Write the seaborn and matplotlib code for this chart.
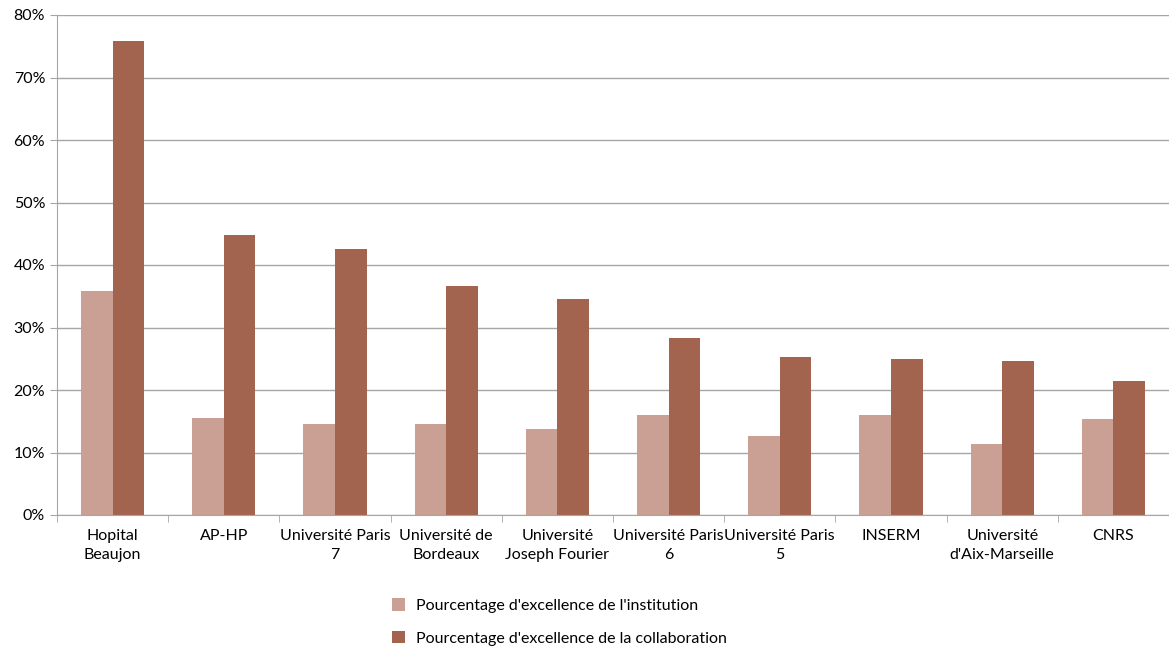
import matplotlib
matplotlib.use("Agg")
import matplotlib.pyplot as plt
from matplotlib.ticker import PercentFormatter, FixedLocator, NullFormatter
import pandas as pd
import seaborn as sns

institutions = ["Hopital\nBeaujon", "AP-HP", "Université Paris\n7", "Université de\nBordeaux",
                "Université\nJoseph Fourier", "Université Paris\n6", "Université Paris\n5", "INSERM",
                "Université\nd'Aix-Marseille", "CNRS"]
pct_institution = [35.8, 15.5, 14.6, 14.6, 13.8, 16.0, 12.6, 16.0, 11.4, 15.3]
pct_collaboration = [75.9, 44.8, 42.6, 36.7, 34.5, 28.3, 25.3, 24.9, 24.7, 21.4]
series_names = ["Pourcentage d'excellence de l'institution",
                "Pourcentage d'excellence de la collaboration"]
colors = ["#C9A093", "#A3644F"]

df = pd.DataFrame({
    "institution": institutions * 2,
    "value": pct_institution + pct_collaboration,
    "serie": [series_names[0]] * len(institutions) + [series_names[1]] * len(institutions),
})

sns.set_style("white")
plt.rcParams["font.family"] = ["Lato", "DejaVu Sans"]
plt.rcParams["text.color"] = "#000000"

fig = plt.figure(figsize=(11.69, 6.47), dpi=100)
ax = fig.add_axes([57 / 1169, 1 - 515 / 647, 1112 / 1169, 500 / 647])

sns.barplot(data=df, x="institution", y="value", hue="serie", palette=colors,
            width=0.57, ax=ax, saturation=1, edgecolor="none")

ax.set_xlim(-0.5, len(institutions) - 0.5)
ax.set_ylim(0, 80)
ax.set_yticks(range(0, 81, 10))
ax.yaxis.set_major_formatter(PercentFormatter(decimals=0))
ax.grid(axis="y", color="#a6a6a6", linewidth=1)
ax.set_axisbelow(True)
ax.set_xlabel("")
ax.set_ylabel("")

# category boundary ticks
ax.xaxis.set_minor_locator(FixedLocator([i - 0.5 for i in range(len(institutions) + 1)]))
ax.xaxis.set_minor_formatter(NullFormatter())
ax.tick_params(axis="x", which="major", length=0, labelsize=11.5, pad=10, labelcolor="#000000")
ax.tick_params(axis="x", which="minor", length=5, color="#a6a6a6", direction="out", bottom=True)
ax.tick_params(axis="y", length=5, color="#a6a6a6", direction="out", left=True,
               labelsize=11.5, labelcolor="#000000")
for lab in ax.get_xticklabels():
    lab.set_linespacing(1.45)

for side in ["top", "right"]:
    ax.spines[side].set_visible(False)
for side in ["left", "bottom"]:
    ax.spines[side].set_color("#a6a6a6")

leg = ax.legend(loc="upper left", bbox_to_anchor=(0.2885, -0.138),
                frameon=False, fontsize=11.5, handlelength=0.8, handleheight=0.8,
                labelspacing=1.12, handletextpad=0.7)
for t in leg.get_texts():
    t.set_color("#000000")

fig.savefig("out.png", dpi=100)
